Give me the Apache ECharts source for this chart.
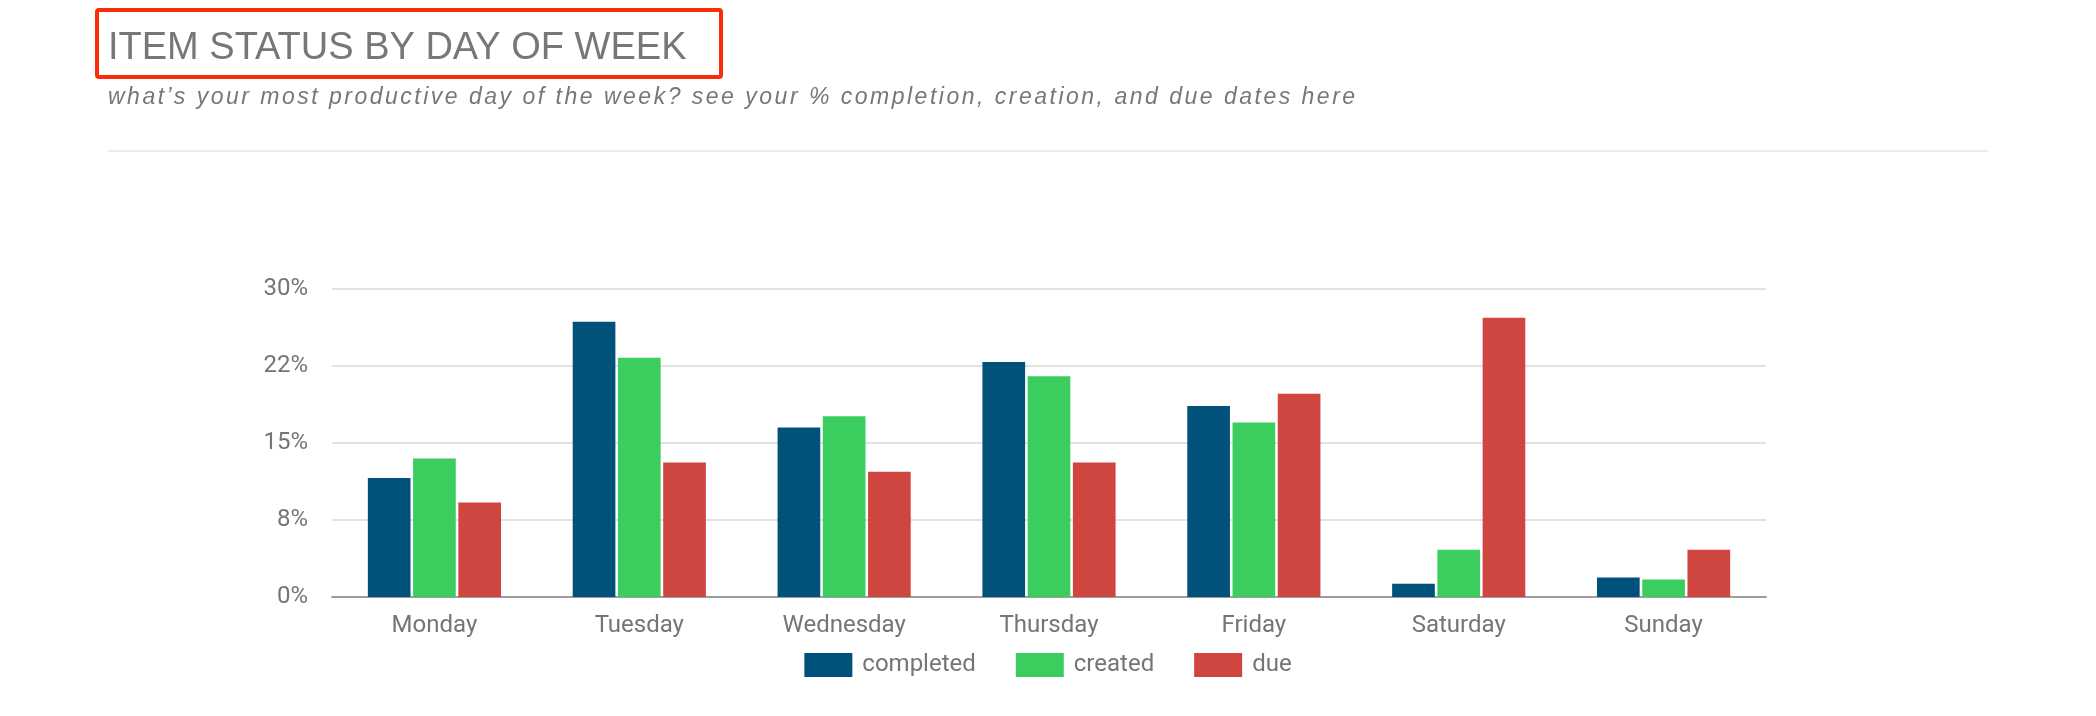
<!DOCTYPE html>
<html>
<head>
<meta charset="utf-8">
<script src="https://cdn.jsdelivr.net/npm/echarts@6/dist/echarts.min.js"></script>
<style>
    html, body { margin: 0; padding: 0; background: #fff; }
    .wrap { position: relative; width: 2096px; height: 716px; }
    #item-status-chart { width: 2096px; height: 716px; }
    .subtitle {
        position: absolute;
        left: 108px;
        top: 85px;
        margin: 0;
        font: italic 23px/23px "Liberation Sans", Arial, sans-serif;
        letter-spacing: 2.5px;
        color: #777;
        white-space: nowrap;
    }
</style>
</head>
<body>
<div class="wrap">
    <div id="item-status-chart"></div>
    <p class="subtitle" id="subtitle"></p>
</div>
<script>
var days = ['Monday', 'Tuesday', 'Wednesday', 'Thursday', 'Friday', 'Saturday', 'Sunday'];
var seriesNames = ['completed', 'created', 'due'];
var completed = [11.6, 26.8, 16.5, 22.9, 18.6, 1.3, 1.9];
var created = [13.5, 23.3, 17.6, 21.5, 17.0, 4.6, 1.7];
var due = [9.2, 13.1, 12.2, 13.1, 19.8, 27.2, 4.6];
var yTickLabels = ['0%', '8%', '15%', '22%', '30%'];
var yStep = 7.5;

var titleText = 'ITEM STATUS BY DAY OF WEEK';
var subText = 'what\u2019s your most productive day of the week? see your % completion, creation, and due dates here';

// subtitle is spaced out, echarts text has no letter-spacing so it sits in the page
document.getElementById('subtitle').textContent = subText;

var chart = echarts.init(document.getElementById('item-status-chart'));

var labelColor = '#757575';

var option = {
    animation: false,
    color: ['#00527a', '#3bce5f', '#ce463f'],
    textStyle: {
        fontFamily: 'Roboto'
    },
    graphic: [
        {
            type: 'text',
            left: 108,
            top: 30,
            style: {
                text: titleText,
                fill: '#777777',
                font: '38px "Liberation Sans"'
            }
        },
        {
            type: 'rect',
            shape: { x: 97, y: 10, width: 624, height: 67, r: 2 },
            style: { fill: 'none', stroke: '#fb2c08', lineWidth: 4 }
        },
        {
            type: 'line',
            shape: { x1: 108, y1: 151, x2: 1988, y2: 151 },
            style: { stroke: '#ececec', lineWidth: 2 }
        }
    ],
    legend: {
        data: seriesNames,
        left: 'center',
        top: 648,
        icon: 'rect',
        itemWidth: 48,
        itemHeight: 24,
        itemGap: 40,
        textStyle: {
            color: labelColor,
            fontSize: 24,
            padding: [0, 0, 0, 5]
        }
    },
    grid: {
        left: 332,
        right: 330,
        top: 289,
        bottom: 119
    },
    xAxis: {
        type: 'category',
        data: days,
        axisTick: { show: false },
        axisLine: { lineStyle: { color: '#9e9e9e', width: 2 } },
        axisLabel: {
            color: labelColor,
            fontSize: 24,
            margin: 17
        }
    },
    yAxis: {
        type: 'value',
        min: 0,
        max: 30,
        interval: yStep,
        axisLine: { show: false },
        axisTick: { show: false },
        splitLine: { lineStyle: { color: '#e2e2e2', width: 2 } },
        axisLabel: {
            color: labelColor,
            fontSize: 24,
            margin: 24,
            formatter: function (value) {
                return yTickLabels[Math.round(value / yStep)];
            }
        }
    },
    series: [
        {
            name: seriesNames[0],
            type: 'bar',
            data: completed,
            barGap: '6%',
            barCategoryGap: '35%'
        },
        {
            name: seriesNames[1],
            type: 'bar',
            data: created
        },
        {
            name: seriesNames[2],
            type: 'bar',
            data: due
        }
    ]
};
chart.setOption(option);

window.onresize = chart.resize;
</script>
</body>
</html>
